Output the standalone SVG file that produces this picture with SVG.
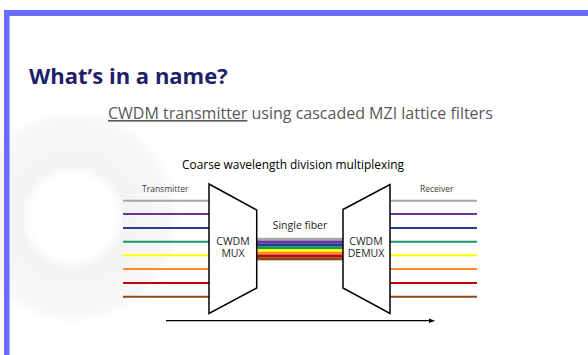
<svg xmlns="http://www.w3.org/2000/svg" width="588" height="355" viewBox="0 0 588 355">
<defs>
<style>
.t{font-family:"Open Sans","Noto Sans","Liberation Sans",sans-serif;}
.lbl{font-size:8.5px;fill:#404040;}
.box{fill:#fff;stroke:#000;stroke-width:1.5;stroke-linejoin:miter;}
.bt{font-size:10.5px;fill:#262626;text-anchor:middle;}
.ln{stroke-width:2;fill:none;}
</style>
<marker id="ah" viewBox="0 0 6 6" refX="5" refY="3" markerWidth="6" markerHeight="6" orient="auto" markerUnits="userSpaceOnUse">
<path d="M0,0.8 L6,3 L0,5.2 z" fill="#000"/>
</marker>
<radialGradient id="wm" cx="73" cy="217" r="115" gradientUnits="userSpaceOnUse">
<stop offset="0" stop-color="#fff" stop-opacity="0"/>
<stop offset="0.33" stop-color="#fff" stop-opacity="0"/>
<stop offset="0.45" stop-color="#f4f4f4"/>
<stop offset="0.85" stop-color="#f8f8f8"/>
<stop offset="1" stop-color="#fff" stop-opacity="0"/>
</radialGradient>
</defs>
<rect width="588" height="355" fill="#fff"/>
<g id="watermark">
<circle cx="73" cy="217" r="115" fill="url(#wm)"/>
</g>
<g id="frame">
<rect x="4" y="10" width="584" height="6" fill="#6B6BFF"/>
<rect x="4" y="10" width="5.5" height="345" fill="#6B6BFF"/>
</g>
<g id="title">
<text class="t" x="29" y="84" font-size="22" font-weight="bold" fill="#1F1F6B">What’s in a name?</text>
</g>
<g id="subtitle">
<text class="t" x="108" y="119" font-size="16" fill="#595959"><tspan text-decoration="underline">CWDM transmitter</tspan> using cascaded MZI lattice filters</text>
</g>
<g id="heading">
<text class="t" x="293" y="169" font-size="11.9" fill="#000" text-anchor="middle">Coarse wavelength division multiplexing</text>
</g>
<g id="connectors">
<g id="tx-lines">
<line class="ln" x1="123" y1="200.7" x2="209" y2="200.7" stroke="#A6A6A6"/>
<line class="ln" x1="123" y1="214" x2="209" y2="214" stroke="#7030A0"/>
<line class="ln" x1="123" y1="228" x2="209" y2="228" stroke="#1F3F8F"/>
<line class="ln" x1="123" y1="241.7" x2="209" y2="241.7" stroke="#13966A"/>
<line class="ln" x1="123" y1="255.3" x2="209" y2="255.3" stroke="#FFFF00"/>
<line class="ln" x1="123" y1="269" x2="209" y2="269" stroke="#FF8A2E"/>
<line class="ln" x1="123" y1="283" x2="209" y2="283" stroke="#C00000"/>
<line class="ln" x1="123" y1="296.7" x2="209" y2="296.7" stroke="#8C4A1C"/>
</g>
<g id="fiber">
<rect x="257" y="237.8" width="86" height="2.9" fill="#A6A6A6"/>
<rect x="257" y="240.6" width="86" height="2.9" fill="#7030A0"/>
<rect x="257" y="243.4" width="86" height="2.9" fill="#1F3F8F"/>
<rect x="257" y="246.2" width="86" height="2.9" fill="#13966A"/>
<rect x="257" y="249" width="86" height="2.9" fill="#FFFF00"/>
<rect x="257" y="251.8" width="86" height="2.9" fill="#FF8A2E"/>
<rect x="257" y="254.6" width="86" height="2.9" fill="#C00000"/>
<rect x="257" y="257.4" width="86" height="2.9" fill="#8C4A1C"/>
</g>
<g id="rx-lines">
<line class="ln" x1="390" y1="200.7" x2="477" y2="200.7" stroke="#A6A6A6"/>
<line class="ln" x1="390" y1="214" x2="477" y2="214" stroke="#7030A0"/>
<line class="ln" x1="390" y1="228" x2="477" y2="228" stroke="#1F3F8F"/>
<line class="ln" x1="390" y1="241.7" x2="477" y2="241.7" stroke="#13966A"/>
<line class="ln" x1="390" y1="255.3" x2="477" y2="255.3" stroke="#FFFF00"/>
<line class="ln" x1="390" y1="269" x2="477" y2="269" stroke="#FF8A2E"/>
<line class="ln" x1="390" y1="283" x2="477" y2="283" stroke="#C00000"/>
<line class="ln" x1="390" y1="296.7" x2="477" y2="296.7" stroke="#8C4A1C"/>
</g>
<line id="axis" x1="166" y1="320.7" x2="434" y2="320.7" stroke="#000" stroke-width="1.3" marker-end="url(#ah)"/>
</g>
<g id="transmitter-label">
<text class="t lbl" x="142" y="192">Transmitter</text>
</g>
<g id="receiver-label">
<text class="t lbl" x="420" y="192">Receiver</text>
</g>
<g id="fiber-label">
<text class="t" x="300" y="229" font-size="10.5" fill="#262626" text-anchor="middle">Single fiber</text>
</g>
<g id="mux">
<polygon class="box" points="209,184 256.7,210 256.7,288 209,313.5"/>
<text class="t bt" x="233" y="244.8">CWDM</text>
<text class="t bt" x="233" y="257.3">MUX</text>
</g>
<g id="demux">
<polygon class="box" points="343,209.5 390,184.5 390,313.5 343,288"/>
<text class="t bt" x="366" y="244.8">CWDM</text>
<text class="t bt" x="366" y="257.3">DEMUX</text>
</g>
</svg>
